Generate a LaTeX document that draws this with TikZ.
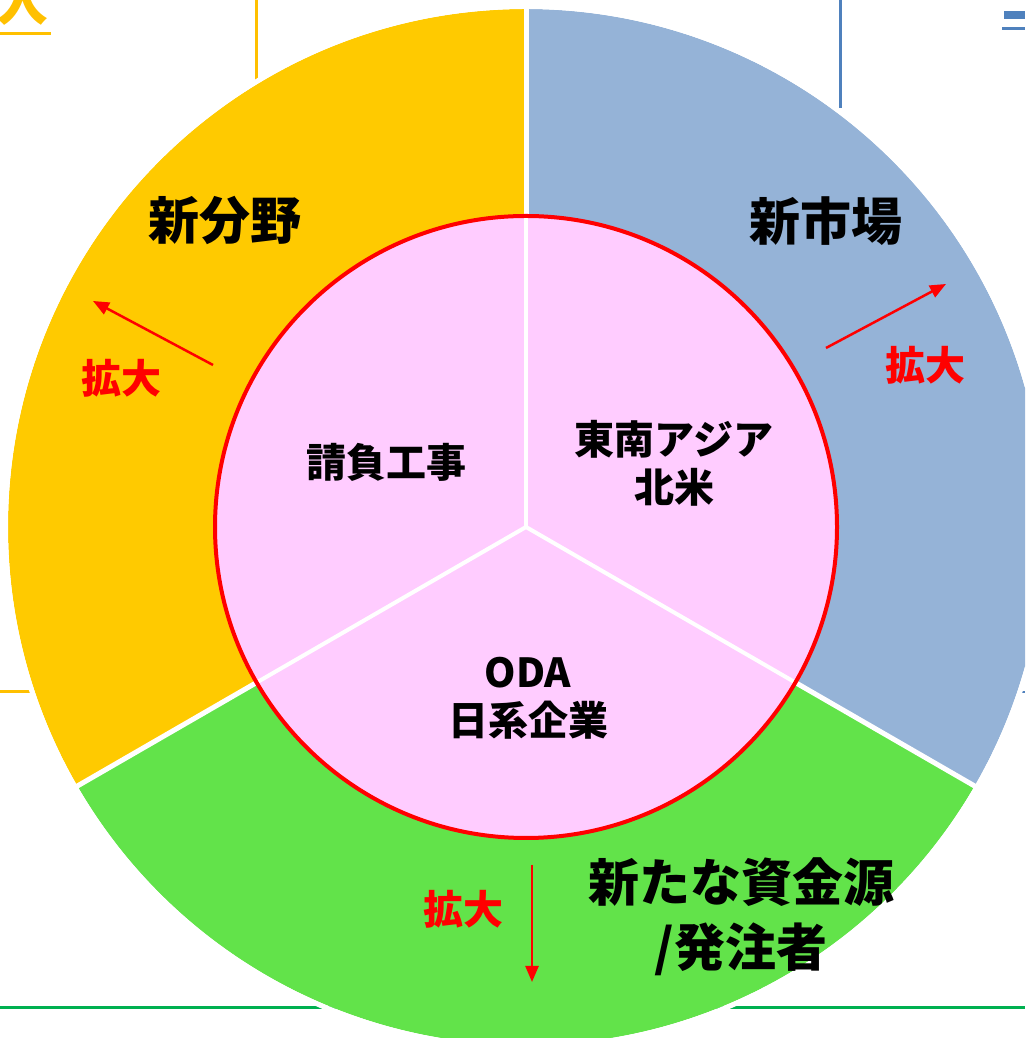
\documentclass[tikz,border=0pt]{standalone}
\usepackage{fontspec}
\setmainfont{Noto Sans CJK JP}
\usetikzlibrary{arrows.meta}
\definecolor{segyellow}{HTML}{FFCA00}
\definecolor{segblue}{HTML}{95B3D7}
\definecolor{seggreen}{HTML}{62E34A}
\definecolor{innerpink}{HTML}{FFCCFF}
\definecolor{lineblue}{HTML}{4F81BD}
\definecolor{linegreen}{HTML}{00B050}
\definecolor{lineyellow}{HTML}{FFC000}
\tikzset{
  bigtxt/.style={font=\fontsize{51}{65}\selectfont\bfseries, text=black, align=center, inner sep=0pt},
  midtxt/.style={font=\fontsize{40}{48}\selectfont\bfseries, text=black, align=center, inner sep=0pt},
  redtxt/.style={font=\fontsize{40}{44}\selectfont\bfseries, text=red, inner sep=0pt},
  growarrow/.style={draw=red, line width=2.5pt, -{Triangle[length=16pt,width=13pt]}},
  divider/.style={draw=white, line width=5pt},
}
\begin{document}
\begin{tikzpicture}[x=1pt,y=1pt]
\useasboundingbox (0,0) rectangle (1025,1038);
\clip (0,0) rectangle (1025,1038);
% background slide fragments
\draw[lineyellow, line width=3pt] (256,1038) -- (256,958);
\draw[lineblue, line width=3pt] (840,1038) -- (840,930);
\fill[lineblue] (1004,1027) rectangle (1025,1019);
\fill[lineblue] (1002,1011) rectangle (1025,1008);
\draw[lineyellow, line width=3pt] (0,346) -- (32,346);
\draw[lineblue, line width=2pt] (1021,346) -- (1025,346);
\draw[linegreen, line width=3pt] (0,30) -- (1025,30);
\node[text=lineyellow, font=\fontsize{52}{52}\selectfont\bfseries, inner sep=0pt] (iri) at (22,1036) {入};
\draw[lineyellow, line width=3pt] (0,1004) -- (51,1004);
% outer ring
\coordinate (c) at (526,511);
\fill[segyellow] (c) -- ++(90:518) arc (90:210:518) -- cycle;
\fill[segblue] (c) -- ++(-30:518) arc (-30:90:518) -- cycle;
\fill[seggreen] (c) -- ++(210:518) arc (210:330:518) -- cycle;
\draw[divider] (c) -- ++(90:520);
\draw[divider] (c) -- ++(210:520);
\draw[divider] (c) -- ++(330:520);
\draw[white, line width=5pt] (c) circle (520.5);
% inner circle
\fill[innerpink] (c) circle (311);
\draw[white, line width=4pt] (c) -- ++(90:311);
\draw[white, line width=4pt] (c) -- ++(210:311);
\draw[white, line width=4pt] (c) -- ++(330:311);
\draw[red, line width=4pt] (c) circle (311);
% texts
\node[bigtxt] (fld) at (225,817) {新分野};
\node[bigtxt] (mkt) at (826,817) {新市場};
\node[bigtxt] (fund) at (741,121) {新たな資金源\\/発注者};
\node[midtxt] (ukeoi) at (386,576) {請負工事};
\node[midtxt] (area) at (674,575) {東南アジア\\北米};
\node[midtxt] (oda) at (528,340) {ODA\\日系企業};
\node[redtxt] (kl) at (121,660) {拡大};
\node[redtxt] (kr) at (925,673) {拡大};
\node[redtxt] (kb) at (463,129) {拡大};
% arrows
\coordinate (alt) at (213,673); \coordinate (alh) at (93,737);
\coordinate (art) at (826,690); \coordinate (arh) at (946,754);
\coordinate (abt) at (532,173); \coordinate (abh) at (532,56);
\draw[growarrow] (alt) -- (alh);
\draw[growarrow] (art) -- (arh);
\draw[growarrow] (abt) -- (abh);
\end{tikzpicture}
\end{document}
